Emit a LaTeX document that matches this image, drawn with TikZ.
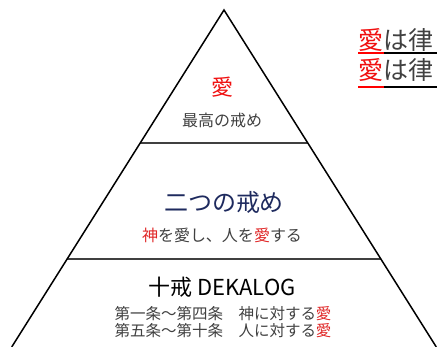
\documentclass[tikz,border=0pt]{standalone}
\usepackage{fontspec}
\setmainfont{Noto Sans CJK JP}
\usetikzlibrary{calc}
\definecolor{txtgray}{HTML}{404040}
\definecolor{lovered}{HTML}{E02828}
\definecolor{brightred}{HTML}{F01010}
\definecolor{navy}{HTML}{1E2A5E}
\tikzset{
  side/.style={line width=1.5pt, black, line join=miter},
  divider/.style={line width=1.5pt, txtgray},
  lbl/.style={inner sep=0pt, anchor=center, align=center},
  uline/.style={line width=2pt},
}
\newcommand{\fs}[2]{\fontsize{#1}{#2}\selectfont}
\begin{document}
\begin{tikzpicture}[x=1pt,y=1pt]
\useasboundingbox (0,0) rectangle (437,347);
\clip (0,0) rectangle (437,347);
\coordinate (apex) at (224,337);
\coordinate (bl) at (11.7,0);
\coordinate (br) at (436.3,0);
\coordinate (l1) at ($(apex)!0.3947!(bl)$);
\coordinate (r1) at ($(apex)!0.3947!(br)$);
\coordinate (l2) at ($(apex)!0.7389!(bl)$);
\coordinate (r2) at ($(apex)!0.7389!(br)$);
\draw[divider] (l1) -- (r1);
\draw[divider] (l2) -- (r2);
\draw[side] (bl) -- (apex) -- (br);

\node[lbl, text=brightred, font=\fs{22}{26}] (ai) at (222,260) {愛};
\node[lbl, text=txtgray, font=\fs{16}{19}] (saiko) at (222,227) {最高の戒め};
\node[lbl, text=navy, font=\fs{24}{28}] (futatsu) at (224,145) {二つの戒め};
\node[lbl, text=txtgray, font=\fs{16}{19}] (kami) at (222,112) {\textcolor{lovered}{神}を愛し、人を\textcolor{lovered}{愛}する};
\node[lbl, text=black, font=\fs{22}{26}] (jukai) at (222,60) {十戒 DEKALOG};
\node[lbl, text=txtgray, font=\fs{15.5}{17.5}] (jo) at (223,25) {第一条～第四条　神に対する\textcolor{lovered}{愛}\\第五条～第十条　人に対する\textcolor{lovered}{愛}};

\node[inner sep=0pt, anchor=west, text=txtgray, font=\fs{25}{29}] (r1t) at (358,307) {\textcolor{brightred}{愛}は律};
\node[inner sep=0pt, anchor=west, text=txtgray, font=\fs{25}{29}] (r2t) at (358,277) {\textcolor{brightred}{愛}は律};
\coordinate (u1a) at (358,294);
\coordinate (u1b) at (384,294);
\coordinate (u1c) at (440,294);
\coordinate (u2a) at (358,260);
\coordinate (u2b) at (384,260);
\coordinate (u2c) at (440,260);
\draw[uline, red] (u1a) -- (u1b);
\draw[uline, black] (u1b) -- (u1c);
\draw[uline, red] (u2a) -- (u2b);
\draw[uline, black] (u2b) -- (u2c);
\end{tikzpicture}
\end{document}
